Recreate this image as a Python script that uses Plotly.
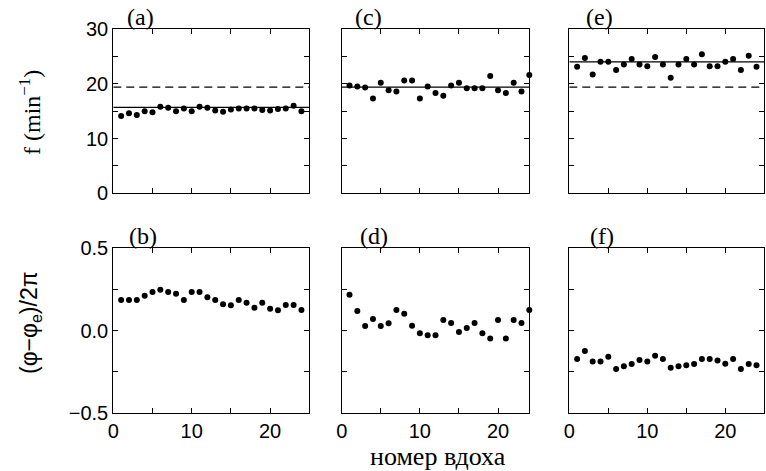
import plotly.graph_objects as go

# номер вдоха
breath = list(range(1, 25))

# частота дыхания f (min^-1)
f_a = [14.1, 14.6, 14.3, 15.0, 14.8, 15.8, 15.6, 15.0, 15.5, 15.0, 15.8, 15.6,
       15.1, 14.9, 15.3, 15.5, 15.5, 15.5, 15.2, 15.1, 15.4, 15.5, 16.0, 15.0]
f_c = [19.7, 19.5, 19.3, 17.3, 20.2, 18.8, 18.6, 20.6, 20.6, 17.3, 19.5, 18.3,
       17.8, 19.7, 20.2, 19.2, 19.2, 19.2, 21.4, 18.8, 18.3, 20.2, 18.6, 21.6]
f_e = [23.1, 24.7, 21.7, 24.0, 24.0, 22.5, 23.5, 24.5, 23.5, 23.2, 24.9, 23.5,
       21.1, 23.5, 24.5, 23.5, 25.4, 23.2, 23.2, 24.0, 24.5, 22.5, 25.1, 23.1]

# средняя частота (сплошная) и собственная частота (штрих)
f_mean = [15.7, 19.4, 24.0]
f_own = [19.4, 19.4, 19.4]

# фаза (phi - phi_e)/2pi
ph_b = [0.186, 0.186, 0.186, 0.212, 0.234, 0.248, 0.234, 0.224, 0.186, 0.234, 0.234, 0.202,
        0.186, 0.159, 0.153, 0.186, 0.169, 0.139, 0.169, 0.133, 0.123, 0.155, 0.155, 0.125]
ph_d = [0.218, 0.119, 0.027, 0.070, 0.027, 0.044, 0.125, 0.102, 0.029, -0.017, -0.029, -0.029,
        0.064, 0.046, -0.009, 0.015, 0.046, -0.017, -0.048, 0.064, -0.048, 0.064, 0.046, 0.125]
ph_f = [-0.173, -0.125, -0.188, -0.188, -0.159, -0.234, -0.218, -0.204, -0.180, -0.188, -0.153, -0.173,
        -0.226, -0.218, -0.212, -0.204, -0.173, -0.173, -0.182, -0.202, -0.173, -0.234, -0.204, -0.212]

panel_labels = ["(a)", "(c)", "(e)", "(b)", "(d)", "(f)"]
x_max = [25, 24, 25]

W, H = 766, 471
# положение панелей в пикселях
cols_px = [(113.3, 309.3), (341.7, 529.3), (569.3, 764.3)]
rows_px = [(29, 193.3), (248.3, 412.7)]
label_pos = [0.14, 0.145, 0.157, 0.15, 0.17, 0.17]


def px_x(v):
    return v / W


def px_y(v):
    return 1 - v / H


fig = go.Figure()
sans = "Liberation Sans"
serif = "Liberation Serif"

top_data = [f_a, f_c, f_e]
bot_data = [ph_b, ph_d, ph_f]

axis_common = dict(showline=True, linecolor="black", linewidth=1.2, mirror="allticks",
                   ticks="inside", ticklen=5, tickcolor="black", showgrid=False, zeroline=False,
                   automargin=False,
                   tickfont=dict(family=sans, size=20, color="black"))

n = 0
for r in range(2):
    for c in range(3):
        n += 1
        xa = "x" if n == 1 else "x%d" % n
        ya = "y" if n == 1 else "y%d" % n
        xkey = "xaxis" if n == 1 else "xaxis%d" % n
        ykey = "yaxis" if n == 1 else "yaxis%d" % n
        x0, x1 = cols_px[c]
        y0, y1 = rows_px[r]
        fig.update_layout({
            xkey: dict(axis_common, domain=[px_x(x0), px_x(x1)], anchor=ya, range=[0, x_max[c]],
                       tick0=0, dtick=10,
                       minor=dict(ticks="inside", ticklen=5, tickcolor="black", dtick=5, showgrid=False),
                       showticklabels=(r == 1)),
        })
        if r == 0:
            yax = dict(axis_common, domain=[px_y(y1), px_y(y0)], anchor=xa, range=[0, 30],
                       tick0=0, dtick=10,
                       minor=dict(ticks="inside", ticklen=5, tickcolor="black", dtick=5, showgrid=False),
                       showticklabels=(c == 0))
            ydata = top_data[c]
        else:
            yax = dict(axis_common, domain=[px_y(y1), px_y(y0)], anchor=xa, range=[-0.5, 0.5],
                       tick0=-0.5, dtick=0.5, tickformat=".1f",
                       minor=dict(ticks="inside", ticklen=5, tickcolor="black", dtick=0.25, showgrid=False),
                       showticklabels=(c == 0))
            ydata = bot_data[c]
        fig.update_layout({ykey: yax})

        if r == 0:
            if c != 1:
                fig.add_trace(go.Scatter(x=[0, x_max[c]], y=[f_own[c]] * 2, mode="lines",
                                         line=dict(color="black", width=1.2, dash="8px,5px"),
                                         xaxis=xa, yaxis=ya, showlegend=False))
            fig.add_trace(go.Scatter(x=[0, x_max[c]], y=[f_mean[c]] * 2, mode="lines",
                                     line=dict(color="black", width=1.2),
                                     xaxis=xa, yaxis=ya, showlegend=False))
        fig.add_trace(go.Scatter(x=breath, y=ydata, mode="markers",
                                 marker=dict(color="black", size=6),
                                 cliponaxis=False, xaxis=xa, yaxis=ya, showlegend=False))

        fig.add_annotation(text=panel_labels[n - 1], xref=xa + " domain", yref=ya + " domain",
                           x=label_pos[n - 1], y=1, xanchor="center", yanchor="bottom", yshift=-3,
                           showarrow=False, font=dict(family=serif, size=24, color="black"))

# подписи осей
fig.add_annotation(text="f (min<sup>\u22121</sup>)", xref="paper", yref="paper",
                   x=px_x(30), y=px_y(113), xanchor="center", yanchor="middle",
                   textangle=-90, showarrow=False,
                   font=dict(family=serif, size=24, color="black"))
fig.add_annotation(text="(\u03c6\u2212\u03c6<sub>e</sub>)/2\u03c0", xref="paper", yref="paper",
                   x=px_x(30), y=px_y(323), xanchor="center", yanchor="middle",
                   textangle=-90, showarrow=False,
                   font=dict(family=sans, size=23, color="black"))
fig.add_annotation(text="номер вдоха", xref="paper", yref="paper",
                   x=px_x(438), y=px_y(456), xanchor="center", yanchor="middle", showarrow=False,
                   font=dict(family=serif, size=26, color="black"))

fig.update_layout(width=W, height=H, margin=dict(l=0, r=0, t=0, b=0),
                  plot_bgcolor="white", paper_bgcolor="white")

# убрать стандартный отступ страницы
fig.write_html("out.html", config={"displayModeBar": False},
               post_script="document.body.style.margin='0px';")
